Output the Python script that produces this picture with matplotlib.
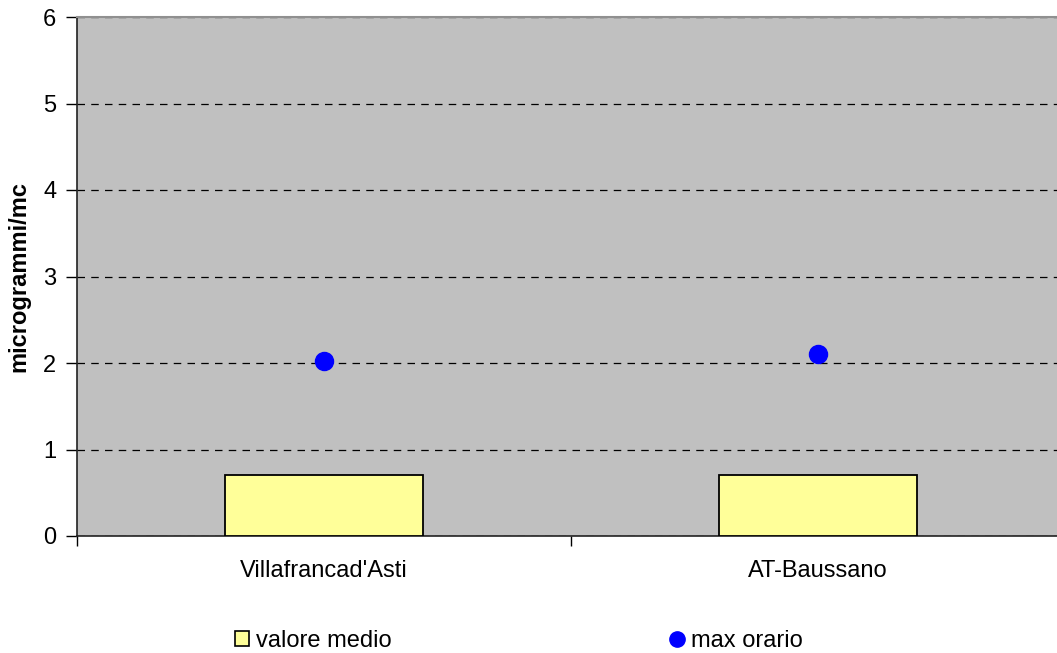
import matplotlib.pyplot as plt
from matplotlib.patches import Patch
from matplotlib.lines import Line2D

plt.rcParams['font.family'] = ['Liberation Sans', 'DejaVu Sans']

stazioni = ["Villafrancad'Asti", "AT-Baussano"]
valore_medio = [0.7, 0.7]
max_orario = [2.02, 2.1]
y_ticks = [0, 1, 2, 3, 4, 5, 6]

fig = plt.figure(figsize=(10.57, 6.53), dpi=100)
W, H = 1057, 653
# plot area: left 77px, top 17px, bottom 536px, two categories of ~494px each
ax = fig.add_axes([77 / W, 1 - 536 / H, 988 / W, (536 - 17) / H])
ax.set_facecolor('#c0c0c0')

x = list(range(len(stazioni)))
ax.bar(x, valore_medio, width=0.4, color='#ffff99', edgecolor='black',
       linewidth=1.3, zorder=3)
ax.plot(x, max_orario, 'o', color='#0000ff', markersize=13, zorder=4)

ax.set_xlim(-0.5, 1.5)
ax.set_ylim(0, 6)
ax.set_yticks(y_ticks)
ax.set_xticks([-0.5, 0.5, 1.5])
ax.set_xticklabels([])
for xi, name in zip(x, stazioni):
    ax.text(xi, -0.41, name, ha='center', va='center', fontsize=17)

ax.tick_params(axis='y', direction='out', length=8, width=1, labelsize=17, pad=7)
ax.tick_params(axis='x', direction='out', length=7, width=1)
ax.yaxis.grid(True, linestyle=(0, (6, 5)), color='black', linewidth=0.9)
ax.set_axisbelow(True)

for s in ['left', 'bottom']:
    ax.spines[s].set_color('#222222')
    ax.spines[s].set_linewidth(1.2)
ax.spines['top'].set_color('#909090')
ax.spines['top'].set_linewidth(1.5)
ax.spines['right'].set_visible(False)

fig.text(19 / W, 1 - 276 / H, 'microgrammi/mc', rotation=90, ha='center',
         va='center', fontsize=17, fontweight='bold')

handles = [
    Patch(facecolor='#ffff99', edgecolor='black', linewidth=1.2),
    Line2D([], [], marker='o', linestyle='none', color='#0000ff', markersize=11),
]
fig.legend(handles, ['valore medio', 'max orario'], loc='center',
           bbox_to_anchor=(519 / W, 1 - 641 / H), ncol=2, frameon=False,
           fontsize=17, handlelength=0.6, handleheight=0.6, handletextpad=0.3,
           columnspacing=11.8)

fig.savefig('out.png', dpi=100)
